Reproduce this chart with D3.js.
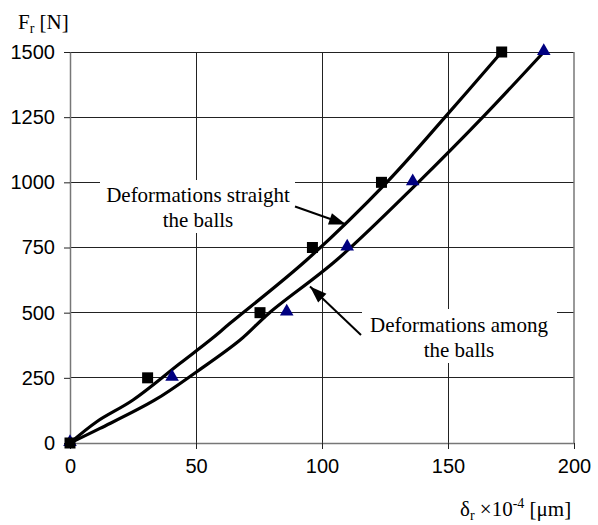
<!DOCTYPE html>
<html>
<head>
<meta charset="utf-8">
<script src="https://cdn.jsdelivr.net/npm/d3@7"></script>
<style>
  html, body { margin: 0; padding: 0; background: #fff; }
  svg { display: block; }
</style>
</head>
<body>
<script>
// ---- data ----
const forceLevels = [0, 250, 500, 750, 1000, 1500];            // F_r [N]
const straightX   = [0, 30.8, 75.4, 96.2, 123.6, 171.3];       // squares
const amongX      = [0, 40.5, 86.0, 110.0, 136.0, 188.0];      // triangles
// smoothed trend curves (as drawn in the picture)
const straightCurveX = [0, 10.6, 25.0, 43.7, 55.6, 63.5, 93.9, 125.7, 149.0, 171.3];
const straightCurveY = [0, 81.7, 165, 305.7, 395, 459, 702, 1000, 1252, 1500];
const amongCurveX    = [0, 11.9, 33.7, 50.3, 67.5, 79.2, 105.8, 138.2, 164.0, 188.0];
const amongCurveY    = [0, 56, 165, 273.5, 395, 500, 702, 1000, 1252, 1500];
const xTicks = [0, 50, 100, 150, 200];
const yTicks = [0, 250, 500, 750, 1000, 1250, 1500];

const W = 598, H = 525;
const m = {left: 70, right: 24, top: 52, bottom: 82};

const svg = d3.select("body").append("svg").attr("width", W).attr("height", H);

const x = d3.scaleLinear().domain([0, 200]).range([m.left, W - m.right]);
const y = d3.scaleLinear().domain([0, 1500]).range([H - m.bottom, m.top]);

const sans = "'Liberation Sans', Arial, sans-serif";
const serif = "'Liberation Serif', 'Times New Roman', serif";

// gridlines
const g = svg.append("g");
g.selectAll(".hg").data(yTicks.filter(d => d > 0)).join("line")
  .attr("x1", x(0)).attr("x2", x(200))
  .attr("y1", d => y(d)).attr("y2", d => y(d))
  .attr("stroke", "#222").attr("stroke-width", 1).attr("shape-rendering", "crispEdges");
g.selectAll(".vg").data(xTicks.filter(d => d > 0 && d < 200)).join("line")
  .attr("x1", d => x(d)).attr("x2", d => x(d))
  .attr("y1", y(0)).attr("y2", y(1500))
  .attr("stroke", "#222").attr("stroke-width", 1).attr("shape-rendering", "crispEdges");
// right border
g.append("line").attr("x1", x(200)).attr("x2", x(200)).attr("y1", y(0)).attr("y2", y(1500))
  .attr("stroke", "#777").attr("stroke-width", 1.5);

// axes
const fmt = d3.format("d");
const xAxis = d3.axisBottom(x).tickValues(xTicks).tickFormat(fmt).tickSize(6).tickSizeOuter(0).tickPadding(10);
const yAxis = d3.axisLeft(y).tickValues(yTicks).tickFormat(fmt).tickSize(6).tickSizeOuter(0).tickPadding(9);
const gx = svg.append("g").attr("transform", `translate(0,${y(0)})`).call(xAxis);
const gy = svg.append("g").attr("transform", `translate(${x(0)},0)`).call(yAxis);
[gx, gy].forEach(a => {
  a.select(".domain").attr("stroke", "#777").attr("stroke-width", 1.5);
  a.selectAll(".tick line").attr("stroke", "#222");
  a.selectAll("text").attr("font-family", sans).attr("font-size", 20).attr("fill", "#000");
});

// annotation boxes (white, interrupt the grid)
svg.append("rect").attr("x", 100).attr("y", 180).attr("width", 195).attr("height", 53).attr("fill", "#fff");
svg.append("rect").attr("x", 362).attr("y", 309).attr("width", 195).attr("height", 54).attr("fill", "#fff");

// curves
const line = d3.line().x(d => x(d[0])).y(d => y(d[1])).curve(d3.curveCatmullRom);
const amongPts = amongCurveX.map((v, i) => [v, amongCurveY[i]]);
const straightPts = straightCurveX.map((v, i) => [v, straightCurveY[i]]);
svg.append("path").attr("d", line(amongPts)).attr("fill", "none")
  .attr("stroke", "#000").attr("stroke-width", 3.2).attr("stroke-linejoin", "round");
svg.append("path").attr("d", line(straightPts)).attr("fill", "none")
  .attr("stroke", "#000").attr("stroke-width", 3.2).attr("stroke-linejoin", "round");

// markers
const tri = d3.symbol().type(d3.symbolTriangle).size(80);
svg.selectAll(".tri").data(amongX).join("path")
  .attr("d", tri)
  .attr("transform", (d, i) => `translate(${x(d)},${y(forceLevels[i]) - 1})`)
  .attr("fill", "#000080");
svg.selectAll(".sq").data(straightX).join("rect")
  .attr("x", d => x(d) - 5.5).attr("y", (d, i) => y(forceLevels[i]) - 5.5)
  .attr("width", 11).attr("height", 11).attr("fill", "#000");

// arrows
function arrow(x1, y1, x2, y2) {
  svg.append("line").attr("x1", x1).attr("y1", y1).attr("x2", x2).attr("y2", y2)
    .attr("stroke", "#000").attr("stroke-width", 2);
  const ang = Math.atan2(y2 - y1, x2 - x1);
  const L = 17, Wd = 6;
  const bx = x2 - L * Math.cos(ang), by = y2 - L * Math.sin(ang);
  const px = -Math.sin(ang) * Wd, py = Math.cos(ang) * Wd;
  svg.append("path")
    .attr("d", `M${x2},${y2} L${bx + px},${by + py} L${bx - px},${by - py} Z`)
    .attr("fill", "#000");
}
arrow(295, 206.5, 346, 224.5);
arrow(361, 335, 310, 286.5);

// annotation texts
function label(cx, y0, lines) {
  const t = svg.append("text").attr("font-family", serif).attr("font-size", 21)
    .attr("text-anchor", "middle").attr("fill", "#000");
  lines.forEach((s, i) => t.append("tspan").attr("x", cx).attr("y", y0 + i * 25).text(s));
}
label(198, 201.5, ["Deformations straight", "the balls"]);
label(459, 332, ["Deformations among", "the balls"]);

// axis titles
const yt = svg.append("text").attr("x", 18).attr("y", 29).attr("font-family", serif)
  .attr("font-size", 21).attr("fill", "#000");
yt.append("tspan").text("F");
yt.append("tspan").attr("font-size", 14).attr("dy", 4).text("r");
yt.append("tspan").attr("dy", -4).text(" [N]");

const xt = svg.append("text").attr("x", 460).attr("y", 516).attr("font-family", serif)
  .attr("font-size", 21).attr("fill", "#000");
xt.append("tspan").text("δ");
xt.append("tspan").attr("font-size", 14).attr("dy", 4).text("r");
xt.append("tspan").attr("dy", -4).text(" ×10");
xt.append("tspan").attr("font-size", 14).attr("dy", -8).text("-4");
xt.append("tspan").attr("dy", 8).text(" [μm]");
</script>
</body>
</html>
